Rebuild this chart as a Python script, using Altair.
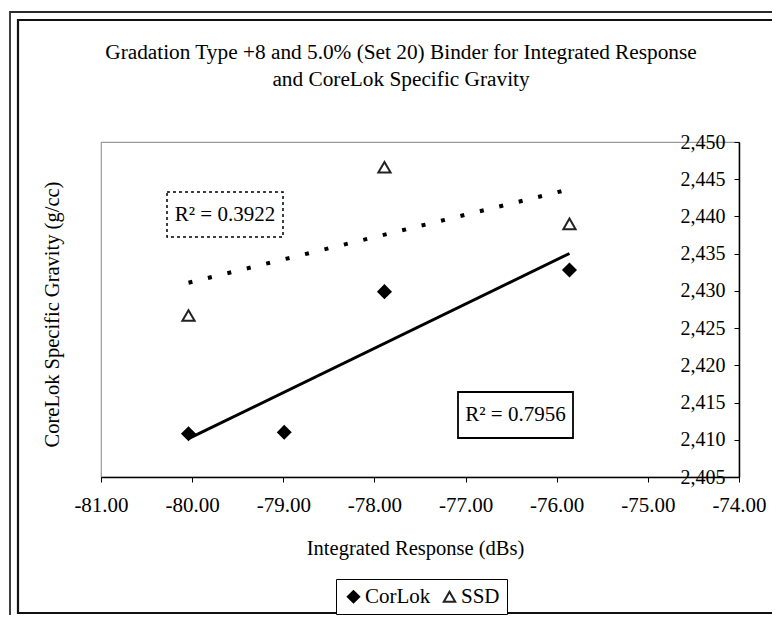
import altair as alt
import pandas as pd

# ---- data ----
series_names = ["CorLok", "SSD"]
x_corlok = [-80.04, -78.99, -77.89, -75.86]
y_corlok = [2.4108, 2.4110, 2.4299, 2.4328]
x_ssd = [-80.04, -77.89, -75.86]
y_ssd = [2.4267, 2.4466, 2.4390]
x_ticks = [-81, -80, -79, -78, -77, -76, -75, -74]
y_ticks = [2.405, 2.410, 2.415, 2.420, 2.425, 2.430, 2.435, 2.440, 2.445, 2.450]
r2_labels = ["R\u00b2 = 0.3922", "R\u00b2 = 0.7956"]
title_lines = ["Gradation Type +8 and 5.0% (Set 20) Binder for Integrated Response",
               "and CoreLok Specific Gravity"]
x_title = "Integrated Response (dBs)"
y_title = "CoreLok Specific Gravity (g/cc)"

df = pd.DataFrame({
    "x": x_corlok + x_ssd,
    "y": y_corlok + y_ssd,
    "series": [series_names[0]] * len(x_corlok) + [series_names[1]] * len(x_ssd),
})

W, H = 638, 335
FONT = "Liberation Serif"

xs = alt.Scale(domain=[x_ticks[0], x_ticks[-1]], nice=False, zero=False)
ys = alt.Scale(domain=[y_ticks[0], y_ticks[-1]], nice=False, zero=False)

x_axis = alt.Axis(
    values=x_ticks, tickCount=len(x_ticks) * 2, grid=False, title=x_title,
    labelExpr="(datum.value < 0 ? '-' : '') + format(abs(datum.value), '.2f')",
    labelFont=FONT, labelFontSize=21, labelColor="black", labelPadding=12,
    labelFlush=False, labelOverlap=False,
    tickColor="black", tickSize=5, domainColor="black", domainWidth=1.5,
    titleFont=FONT, titleFontSize=20.5, titleFontWeight="normal", titleColor="black",
    titleBaseline="middle", titleAlign="center", titleX=314, titleY=71,
)
y_axis = alt.Axis(
    values=y_ticks, tickCount=len(y_ticks) * 2, grid=False, title=y_title,
    orient="left", offset=-W,
    labelExpr="replace(format(datum.value, '.3f'), '.', ',')",
    labelFont=FONT, labelFontSize=20, labelColor="black", labelPadding=9,
    labelOverlap=False,
    tickColor="black", tickSize=5, domainColor="black", domainWidth=1.5,
    titleFont=FONT, titleFontSize=20.5, titleFontWeight="normal", titleColor="black",
    titleX=-687, titleY=172, titleBaseline="middle", titleAngle=270,
)

legend = alt.Legend(
    title=None, orient="none", legendX=235, legendY=437, direction="horizontal",
    strokeColor="black", fillColor="white", padding=7,
    labelFont=FONT, labelFontSize=21, labelColor="black", labelOffset=1,
    symbolSize=130, symbolStrokeWidth=2, columnPadding=8,
)

base = alt.Chart(df)

points = base.mark_point(filled=True, opacity=1, strokeWidth=2, size=150).encode(
    x=alt.X("x:Q", scale=xs, axis=x_axis),
    y=alt.Y("y:Q", scale=ys, axis=y_axis),
    shape=alt.Shape("series:N", scale=alt.Scale(domain=series_names, range=["diamond", "triangle-up"]), legend=legend),
    fill=alt.Fill("series:N", scale=alt.Scale(domain=series_names, range=["black", "white"]), legend=legend),
    stroke=alt.Stroke("series:N", scale=alt.Scale(domain=series_names, range=["black", "#222222"]), legend=legend),
)

trend_cor = base.transform_filter(
    alt.datum.series == series_names[0]
).transform_regression("x", "y").mark_line(color="black", strokeWidth=3).encode(
    x=alt.X("x:Q", scale=xs), y=alt.Y("y:Q", scale=ys)
)
trend_ssd = base.transform_filter(
    alt.datum.series == series_names[1]
).transform_regression("x", "y").mark_line(
    color="black", strokeWidth=4, strokeDash=[4, 16], strokeCap="butt"
).encode(x=alt.X("x:Q", scale=xs), y=alt.Y("y:Q", scale=ys))

one = pd.DataFrame({"k": [0]})
frame_outer = alt.Chart(one).mark_rect(fill="transparent", stroke="#2a2a2a", strokeWidth=1.8).encode(
    x=alt.value(-91), x2=alt.value(760), y=alt.value(-130), y2=alt.value(500))
frame_inner = alt.Chart(one).mark_rect(fill="transparent", stroke="#111111", strokeWidth=2.2).encode(
    x=alt.value(-83), x2=alt.value(760), y=alt.value(-122), y2=alt.value(471))

title_df = pd.DataFrame({"t": title_lines, "line": [0, 1]})
title1 = alt.Chart(title_df).transform_filter(alt.datum.line == 0).mark_text(
    font=FONT, fontSize=21.3, color="black", baseline="middle").encode(
    x=alt.value(300), y=alt.value(-89), text="t:N")
title2 = alt.Chart(title_df).transform_filter(alt.datum.line == 1).mark_text(
    font=FONT, fontSize=21.3, color="black", baseline="middle").encode(
    x=alt.value(300), y=alt.value(-62), text="t:N")

box1 = alt.Chart(pd.DataFrame({"t": [r2_labels[0]]}))
r2_box1 = box1.mark_rect(fill="white", stroke="black", strokeWidth=1.5, strokeDash=[3, 3]).encode(
    x=alt.value(66), x2=alt.value(182), y=alt.value(50), y2=alt.value(95))
r2_text1 = box1.mark_text(font=FONT, fontSize=21, color="black", baseline="middle").encode(
    x=alt.value(124), y=alt.value(73), text="t:N")

box2 = alt.Chart(pd.DataFrame({"t": [r2_labels[1]]}))
r2_box2 = box2.mark_rect(fill="white", stroke="black", strokeWidth=1.8).encode(
    x=alt.value(357), x2=alt.value(472), y=alt.value(250), y2=alt.value(296))
r2_text2 = box2.mark_text(font=FONT, fontSize=21, color="black", baseline="middle").encode(
    x=alt.value(414.5), y=alt.value(273), text="t:N")

chart = alt.layer(
    frame_outer, frame_inner, title1, title2, trend_ssd, trend_cor, points,
    r2_box1, r2_text1, r2_box2, r2_text2,
).properties(
    width=W, height=H,
    autosize=alt.AutoSizeParams(type="none"),
    padding={"left": 93, "top": 134, "right": 33, "bottom": 138},
).configure_view(stroke="#9a9a9a", strokeWidth=1.2)

chart.save("out.html", embed_options={"renderer": "svg", "actions": False})
